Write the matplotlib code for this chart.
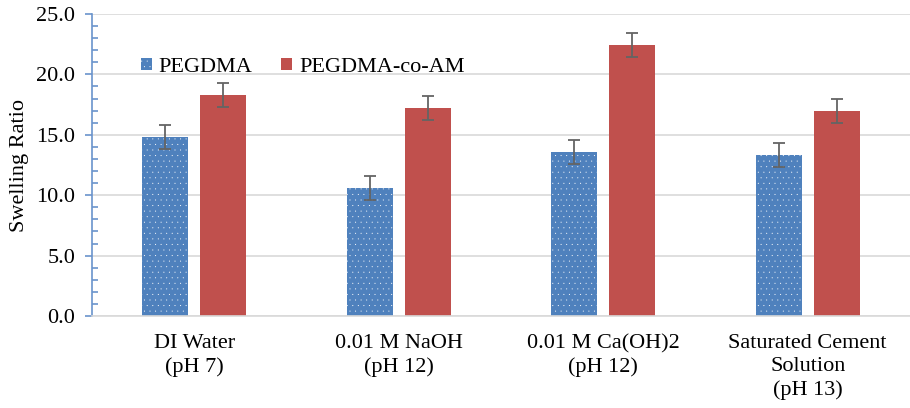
import matplotlib
matplotlib.use("Agg")
import matplotlib.pyplot as plt
import numpy as np
from matplotlib.ticker import MultipleLocator, FormatStrFormatter

categories = ["DI Water\n(pH 7)", "0.01 M NaOH\n(pH 12)", "0.01 M Ca(OH)2\n(pH 12)",
              "Saturated Cement\nSolution\n(pH 13)"]
series_names = ["PEGDMA", "PEGDMA-co-AM"]
pegdma = [14.8, 10.6, 13.6, 13.3]
pegdma_err = [1.0, 1.0, 1.0, 1.0]
pegdma_am = [18.3, 17.2, 22.4, 17.0]
pegdma_am_err = [1.0, 1.0, 1.0, 1.0]

plt.rcParams['font.family'] = ['Liberation Serif', 'DejaVu Serif']
plt.rcParams['hatch.linewidth'] = 0.0

fig = plt.figure(figsize=(9.10, 4.08), dpi=100)
ax = fig.add_axes([92/910, (408-316)/408, 818/910, (316-14)/408])

x = np.arange(len(categories))
w = 0.2245
off = 0.1415
blue = '#4F81BD'
red = '#C0504D'
err_kw = dict(ecolor='#646464', elinewidth=1.3, capsize=4.5, capthick=1.3)

ax.bar(x - off, pegdma, w, color=blue, edgecolor='white', linewidth=0,
       hatch='...', label=series_names[0], zorder=2)
ax.errorbar(x - off, pegdma, yerr=pegdma_err, fmt='none', zorder=3, **err_kw)
ax.bar(x + off, pegdma_am, w, color=red, linewidth=0, label=series_names[1], zorder=2)
ax.errorbar(x + off, pegdma_am, yerr=pegdma_am_err, fmt='none', zorder=3, **err_kw)

ax.set_xlim(-0.5, 3.5)
ax.set_ylim(0, 25)
ax.yaxis.set_major_locator(MultipleLocator(5))
ax.yaxis.set_minor_locator(MultipleLocator(1))
ax.yaxis.set_major_formatter(FormatStrFormatter('%.1f'))
ax.grid(axis='y', which='major', color='#D9D9D9', linewidth=1.2, zorder=0)
ax.set_axisbelow(True)

for s in ['top', 'right']:
    ax.spines[s].set_visible(False)
ax.spines['bottom'].set_color('#D9D9D9')
ax.spines['bottom'].set_linewidth(1.2)
ax.spines['left'].set_color('#6A94CC')
ax.spines['left'].set_linewidth(1.2)

ax.tick_params(axis='y', which='major', direction='out', length=5, width=1.2,
               color='#6A94CC', labelsize=16, pad=7)
ax.tick_params(axis='y', which='minor', direction='in', length=4, width=1.2,
               color='#6A94CC')
ax.set_xticks(x)
ax.set_xticklabels(categories, linespacing=1.3)
ax.tick_params(axis='x', length=0, labelsize=16, pad=13)

ax.set_ylabel("Swelling Ratio", fontsize=16)
ax.yaxis.set_label_coords(-0.077, 0.5)

leg = ax.legend(loc='upper left', bbox_to_anchor=(0.035, 0.922), ncol=2, frameon=False,
                fontsize=16, handlelength=0.5, handleheight=0.5, handletextpad=0.3,
                columnspacing=1.3)

fig.savefig("out.png", dpi=100)
